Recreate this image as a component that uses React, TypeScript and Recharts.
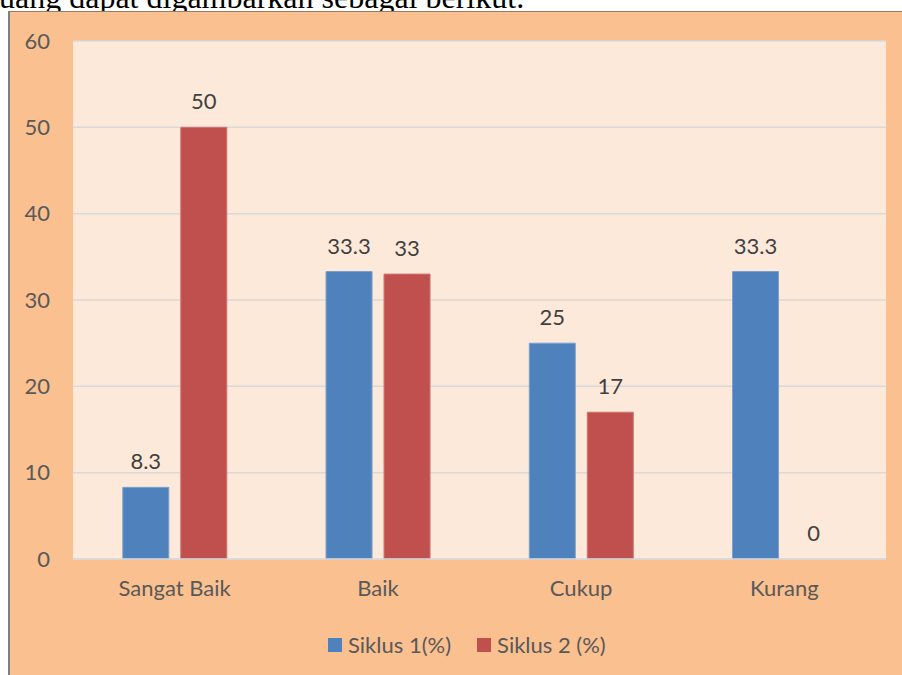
import { Bar, BarChart, CartesianGrid, Cell, LabelList, Legend, XAxis, YAxis } from 'recharts';

const categories = ['Sangat Baik', 'Baik', 'Cukup', 'Kurang'];
const siklus1 = [8.3, 33.3, 25, 33.3];
const siklus2 = [50, 33, 17, 0];
const yTicks = [0, 10, 20, 30, 40, 50, 60];

const chartData = categories.map((name, i) => ({ name, s1: siklus1[i], s2: siklus2[i] }));

const FONT = 'Lato, "Open Sans", sans-serif';

const legendItems = [
  { label: 'Siklus 1(%)', color: '#4F81BD' },
  { label: 'Siklus 2 (%)', color: '#C0504D' },
];

const renderLegend = () => (
  <div style={{ display: 'flex', alignItems: 'center', paddingLeft: 328, fontFamily: FONT, fontSize: 22, color: '#595959' }}>
    {legendItems.map((item) => (
      <div key={item.label} style={{ display: 'flex', alignItems: 'center', marginRight: 26 }}>
        <span style={{ display: 'inline-block', width: 14, height: 14, background: item.color, marginRight: 6 }} />
        <span>{item.label}</span>
      </div>
    ))}
  </div>
);

// zero-value bars still get a hair of height so the "0" label is drawn
const minSize = (value: number) => (value === 0 ? 0.5 : 0);

export default function App() {
  return (
    <div style={{ position: 'relative', width: 902, height: 675, overflow: 'hidden', background: '#fff' }}>
      <style>{'body{margin:0;overflow:hidden}'}</style>
      <div
        style={{
          position: 'absolute',
          left: -1,
          top: -19,
          lineHeight: '32px',
          fontFamily: '"Liberation Serif", "Times New Roman", serif',
          fontSize: 32,
          whiteSpace: 'nowrap',
          color: '#000',
        }}
      >
        uang dapat digambarkan sebagai berikut.
      </div>
      <div
        style={{
          position: 'absolute',
          left: 8,
          top: 11,
          width: 894,
          height: 664,
          background: '#FAC090',
          borderLeft: '2px solid #7F7F7F',
          borderTop: '1px solid #9C7B62',
          boxSizing: 'border-box',
        }}
      />
      <div style={{ position: 'absolute', left: 0, top: 0 }}>
        <BarChart
          width={902}
          height={675}
          data={chartData}
          margin={{ top: 41, right: 16, bottom: 66, left: 20 }}
          barCategoryGap="24.5%"
          barGap={12}
        >
          <CartesianGrid vertical={false} stroke="#D9D9D9" strokeWidth={1.5} fill="#FDE9D9" />
          <XAxis
            dataKey="name"
            height={50}
            tickLine={false}
            tickSize={0}
            tickMargin={21}
            axisLine={{ stroke: '#D9D9D9', strokeWidth: 1.5 }}
            tick={{ fill: '#595959', fontSize: 22, fontFamily: FONT }}
          />
          <YAxis
            width={53}
            domain={[0, 60]}
            ticks={yTicks}
            tickLine={false}
            tickSize={0}
            tickMargin={23}
            axisLine={false}
            tick={{ fill: '#595959', fontSize: 22, fontFamily: FONT }}
          />
          <Legend
            layout="horizontal"
            verticalAlign="middle"
            align="center"
            content={renderLegend}
            wrapperStyle={{ top: 631, left: 0, width: 902 }}
          />
          <Bar dataKey="s1" name="Siklus 1(%)" fill="#4F81BD" stroke="#7BA0CD" isAnimationActive={false}>
            <LabelList dataKey="s1" position="top" offset={18} fill="#404040" fontSize={22} fontFamily={FONT} />
          </Bar>
          <Bar
            dataKey="s2"
            name="Siklus 2 (%)"
            fill="#C0504D"
            stroke="#CD7371"
            minPointSize={minSize}
            isAnimationActive={false}
          >
            {siklus2.map((v, i) => (
              <Cell key={i} fillOpacity={v === 0 ? 0 : 1} strokeOpacity={v === 0 ? 0 : 1} />
            ))}
            <LabelList dataKey="s2" position="top" offset={18} fill="#404040" fontSize={22} fontFamily={FONT} />
          </Bar>
        </BarChart>
      </div>
    </div>
  );
}
